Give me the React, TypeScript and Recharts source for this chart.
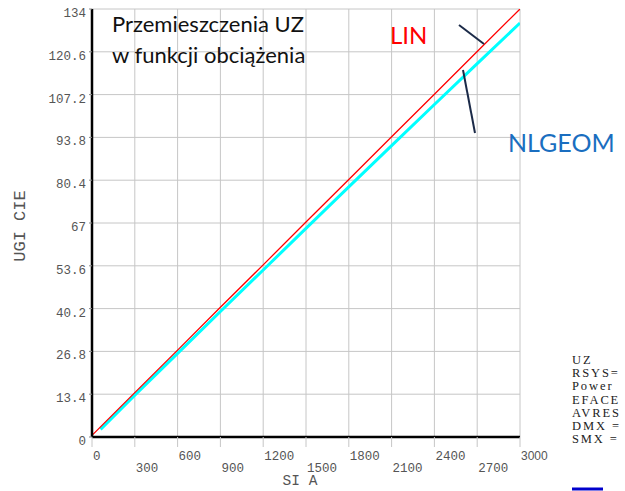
import React from "react";
import { LineChart, Line, XAxis, YAxis, CartesianGrid } from "recharts";

const xTicks = [0, 300, 600, 900, 1200, 1500, 1800, 2100, 2400, 2700, 3000];
const yTicks = [0, 13.4, 26.8, 40.2, 53.6, 67, 80.4, 93.8, 107.2, 120.6, 134];
const yTickLabels = ["0", "13.4", "26.8", "40.2", "53.6", "67", "80.4", "93.8", "107.2", "120.6", "134"];

const linX = [0, 300, 600, 900, 1200, 1500, 1800, 2100, 2400, 2700, 3000];
const linY = [0.5, 13.9, 27.2, 40.6, 53.9, 67.3, 80.6, 94.0, 107.3, 120.7, 134];

const nlX = [60, 300, 600, 900, 1200, 1500, 1800, 2100, 2400, 2700, 3000];
const nlY = [2.4, 13.1, 26.2, 39.3, 52.3, 65.3, 78.3, 91.2, 104.1, 116.9, 129.6];

const sideLabels = ["UZ", "RSYS=", "Power", "EFACE", "AVRES", "DMX =", "SMX ="];

const linData = linX.map((x, i) => ({ x, y: linY[i] }));
const nlData = nlX.map((x, i) => ({ x, y: nlY[i] }));

const mono = "'Liberation Mono', 'DejaVu Sans Mono', monospace";

const XTick = (props: any) => {
  const { x, y, payload, index } = props;
  const label = String(payload.value);
  const isLast = payload.value === 3000;
  const dy = index % 2 === 0 ? 21 : 33;
  return (
    <text
      x={x + 1}
      y={y - 10 + dy}
      textAnchor="start"
      fontFamily={isLast ? "'Liberation Sans', Arial, sans-serif" : mono}
      fontSize={isLast ? 12 : 12.5}
      fill="#555"
    >
      {label}
    </text>
  );
};

const YTick = (props: any) => {
  const { x, y, index } = props;
  return (
    <text
      x={x - 1}
      y={y + 8}
      textAnchor="end"
      fontFamily={mono}
      fontSize={12.5}
      fill="#555"
    >
      {yTickLabels[index]}
    </text>
  );
};

export default function App() {
  return (
    <div style={{ position: "absolute", left: 0, top: 0, width: 625, height: 491, background: "#fff" }}>
      <LineChart
        width={625}
        height={491}
        margin={{ top: 9, right: 105, bottom: 24, left: 32 }}
      >
        <CartesianGrid stroke="#c6c6c6" strokeWidth={1} />
        <XAxis
          type="number"
          dataKey="x"
          domain={[0, 3000]}
          ticks={xTicks}
          interval={0}
          allowDataOverflow
          axisLine={{ stroke: "#000", strokeWidth: 2.5 }}
          tickLine={{ stroke: "#c6c6c6" }}
          tickSize={10}
          height={30}
          tick={<XTick />}
        />
        <YAxis
          type="number"
          dataKey="y"
          domain={[0, 134]}
          ticks={yTicks}
          interval={0}
          allowDataOverflow
          axisLine={{ stroke: "#000", strokeWidth: 2.5 }}
          tickLine={{ stroke: "#888" }}
          tickSize={3}
          width={60}
          tick={<YTick />}
        />
        <Line
          data={nlData}
          dataKey="y"
          stroke="#00ffff"
          strokeWidth={3}
          dot={false}
          isAnimationActive={false}
        />
        <Line
          data={linData}
          dataKey="y"
          stroke="#ff0000"
          strokeWidth={1.3}
          dot={false}
          isAnimationActive={false}
        />
      </LineChart>
      <svg width={625} height={491} style={{ position: "absolute", left: 0, top: 0, pointerEvents: "none" }}>
        <text x={20} y={226} transform="rotate(-90 20 226)" textAnchor="middle" dominantBaseline="central" fontFamily={mono} fontSize={17} fill="#555">
          UGI CIE
        </text>
        <text x={300} y={485} textAnchor="middle" fontFamily={mono} fontSize={14.5} fill="#555">
          SI A
        </text>
        <text x={112} y={32} fontFamily="Lato, 'Open Sans', sans-serif" fontSize={22} fill="#111">
          Przemieszczenia UZ
        </text>
        <text x={112} y={63} fontFamily="Lato, 'Open Sans', sans-serif" fontSize={22} fill="#111">
          w funkcji obciążenia
        </text>
        <text x={390} y={44} fontFamily="Lato, 'Open Sans', sans-serif" fontSize={24} fill="#ff0000">
          LIN
        </text>
        <text x={508} y={152} fontFamily="Lato, 'Open Sans', sans-serif" fontSize={25} fill="#1a6ec0">
          NLGEOM
        </text>
        <line x1={459} y1={25} x2={484} y2={44} stroke="#1b2a48" strokeWidth={2} />
        <line x1={463} y1={70} x2={475} y2={133} stroke="#1b2a48" strokeWidth={2} />
        {sideLabels.map((s, i) => (
          <text key={s} x={572} y={364 + i * 13.2} fontFamily="'Liberation Serif', serif" fontSize={12.5} letterSpacing={1.9} fill="#222">
            {s}
          </text>
        ))}
        <line x1={572} y1={489} x2={603} y2={489} stroke="#0000cc" strokeWidth={3} />
      </svg>
    </div>
  );
}
